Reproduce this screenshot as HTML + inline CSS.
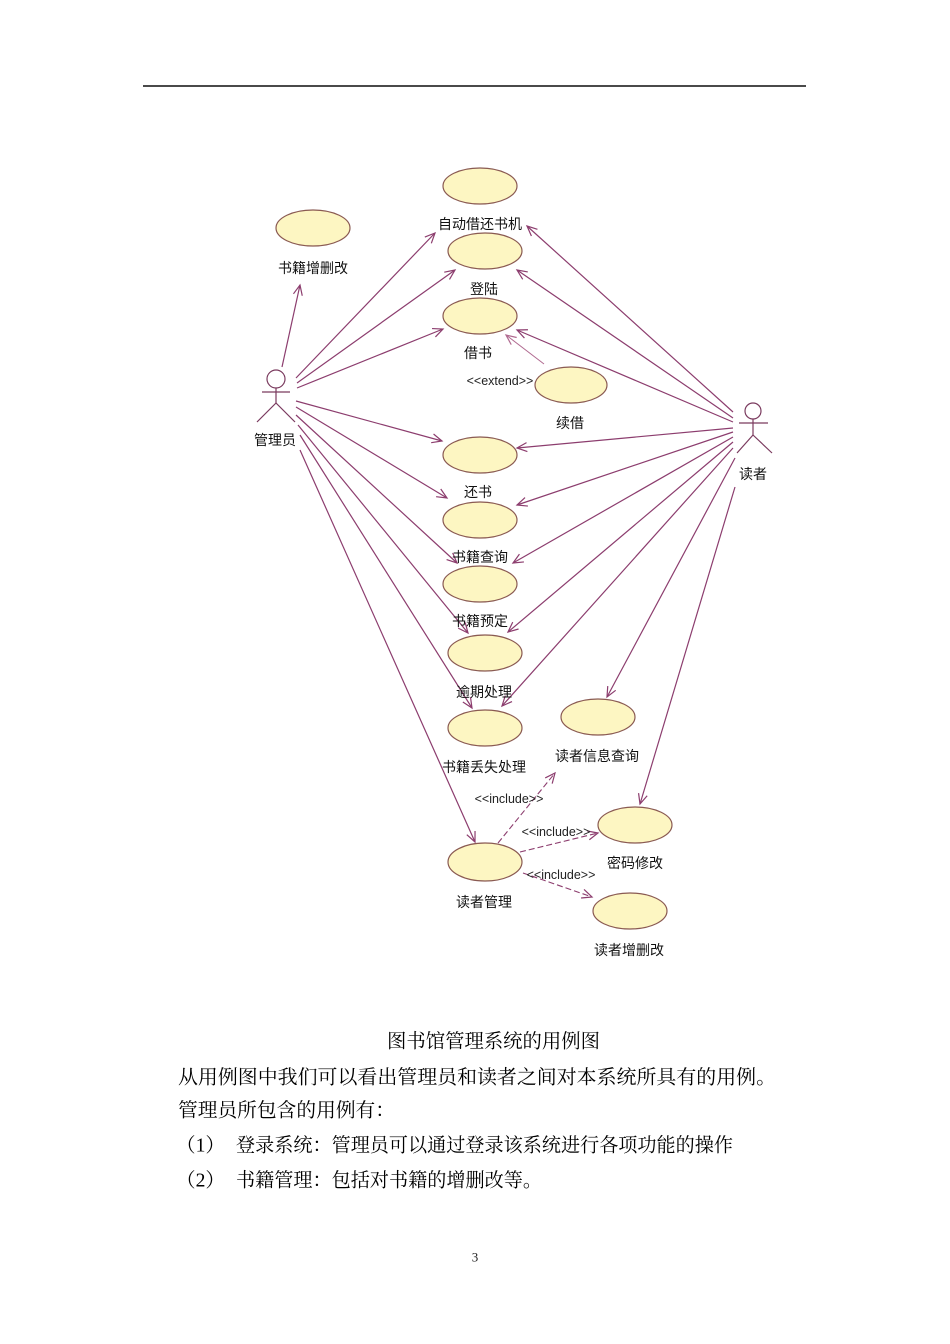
<!DOCTYPE html>
<html><head><meta charset="utf-8">
<style>
html,body{margin:0;padding:0;background:#fff;}
svg{display:block;}
.lb{font-family:"Liberation Sans","Noto Sans CJK SC",sans-serif;font-size:14px;fill:#111;}
.st{font-family:"Liberation Sans","Noto Sans CJK SC",sans-serif;font-size:12.5px;fill:#222;}
.tx{font-family:"Liberation Serif","Noto Serif CJK SC",serif;font-size:19.6px;fill:#000;}
</style></head>
<body>
<svg width="950" height="1344" viewBox="0 0 950 1344" xmlns="http://www.w3.org/2000/svg">
<defs>
<marker id="ar" markerUnits="userSpaceOnUse" markerWidth="14" markerHeight="14" refX="11" refY="6" orient="auto">
<path d="M1,1.5 L11,6 L1,10.5" fill="none" stroke="#8c3d6e" stroke-width="1.2"/>
</marker>
<marker id="ar2" markerUnits="userSpaceOnUse" markerWidth="14" markerHeight="14" refX="11" refY="6" orient="auto">
<path d="M1,1.5 L11,6 L1,10.5" fill="none" stroke="#b06a90" stroke-width="1.2"/>
</marker>
</defs>
<rect width="950" height="1344" fill="#fff"/>
<line x1="143" y1="86" x2="806" y2="86" stroke="#4a4a4a" stroke-width="2"/>

<!-- admin lines -->
<g stroke="#8c3d6e" stroke-width="1.2" fill="none" marker-end="url(#ar)">
<line x1="282" y1="367" x2="300" y2="285"/>
<line x1="296" y1="378" x2="435" y2="233"/>
<line x1="297" y1="383" x2="455" y2="270"/>
<line x1="297" y1="388" x2="443" y2="329"/>
<line x1="296" y1="401" x2="442" y2="441"/>
<line x1="296" y1="407" x2="447" y2="498"/>
<line x1="296" y1="415" x2="457" y2="563"/>
<line x1="298" y1="425" x2="468" y2="633"/>
<line x1="300" y1="435" x2="472" y2="708"/>
<line x1="300" y1="450" x2="475" y2="842"/>
</g>
<!-- reader lines -->
<g stroke="#8c3d6e" stroke-width="1.2" fill="none" marker-end="url(#ar)">
<line x1="733" y1="412" x2="527" y2="226"/>
<line x1="733" y1="418" x2="517" y2="270"/>
<line x1="733" y1="422" x2="517" y2="330"/>
<line x1="733" y1="428" x2="517" y2="448"/>
<line x1="733" y1="432" x2="517" y2="505"/>
<line x1="733" y1="437" x2="513" y2="563"/>
<line x1="733" y1="442" x2="508" y2="632"/>
<line x1="733" y1="448" x2="502" y2="706"/>
<line x1="735" y1="458" x2="607" y2="697"/>
<line x1="735" y1="487" x2="640" y2="804"/>
</g>
<!-- extend -->
<line x1="544" y1="364" x2="506" y2="335" stroke="#b06a90" stroke-width="1" marker-end="url(#ar2)"/>
<!-- includes -->
<g stroke="#8c3d6e" stroke-width="1.1" fill="none" stroke-dasharray="6,3" marker-end="url(#ar)">
<line x1="498" y1="843" x2="555" y2="773"/>
<line x1="520" y1="852" x2="598" y2="833"/>
<line x1="523" y1="873" x2="592" y2="897"/>
</g>

<!-- ellipses -->
<g fill="#fdf6c2" stroke="#8a5a52" stroke-width="1.2">
<ellipse cx="480" cy="186" rx="37" ry="18"/>
<ellipse cx="313" cy="228" rx="37" ry="18"/>
<ellipse cx="485" cy="251" rx="37" ry="18"/>
<ellipse cx="480" cy="316" rx="37" ry="18"/>
<ellipse cx="571" cy="385" rx="36" ry="18"/>
<ellipse cx="480" cy="455" rx="37" ry="18"/>
<ellipse cx="480" cy="520" rx="37" ry="18"/>
<ellipse cx="480" cy="584" rx="37" ry="18"/>
<ellipse cx="485" cy="653" rx="37" ry="18"/>
<ellipse cx="485" cy="728" rx="37" ry="18"/>
<ellipse cx="598" cy="717" rx="37" ry="18"/>
<ellipse cx="485" cy="862" rx="37" ry="19"/>
<ellipse cx="635" cy="825" rx="37" ry="18"/>
<ellipse cx="630" cy="911" rx="37" ry="18"/>
</g>

<!-- actors -->
<g stroke="#7a3a5e" stroke-width="1.2" fill="none">
<circle cx="276" cy="379" r="9" fill="#fff"/>
<line x1="276" y1="388" x2="276" y2="403"/>
<line x1="262" y1="392" x2="290" y2="392"/>
<line x1="276" y1="403" x2="257" y2="422"/>
<line x1="276" y1="403" x2="295" y2="422"/>
<circle cx="753" cy="411" r="8" fill="#fff"/>
<line x1="753" y1="419" x2="753" y2="435"/>
<line x1="739" y1="423" x2="768" y2="423"/>
<line x1="753" y1="435" x2="737" y2="453"/>
<line x1="753" y1="435" x2="772" y2="453"/>
</g>

<!-- labels -->
<g class="lb" text-anchor="middle" dominant-baseline="central">
<text x="480" y="224">自动借还书机</text>
<text x="313" y="268">书籍增删改</text>
<text x="484" y="289">登陆</text>
<text x="478" y="353">借书</text>
<text x="570" y="423">续借</text>
<text x="478" y="492">还书</text>
<text x="480" y="557">书籍查询</text>
<text x="480" y="621">书籍预定</text>
<text x="484" y="692">逾期处理</text>
<text x="484" y="767">书籍丢失处理</text>
<text x="597" y="756">读者信息查询</text>
<text x="484" y="902">读者管理</text>
<text x="635" y="863">密码修改</text>
<text x="629" y="950">读者增删改</text>
<text x="275" y="440">管理员</text>
<text x="753" y="474">读者</text>
</g>
<g class="st" text-anchor="middle" dominant-baseline="central">
<text x="500" y="381">&lt;&lt;extend&gt;&gt;</text>
<text x="509" y="799">&lt;&lt;include&gt;&gt;</text>
<text x="556" y="832">&lt;&lt;include&gt;&gt;</text>
<text x="561" y="875">&lt;&lt;include&gt;&gt;</text>
</g>

<!-- body text -->
<g class="tx" dominant-baseline="central">
<text x="387" y="1042" textLength="213" lengthAdjust="spacingAndGlyphs">图书馆管理系统的用例图</text>
<text x="178" y="1078" textLength="598" lengthAdjust="spacingAndGlyphs">从用例图中我们可以看出管理员和读者之间对本系统所具有的用例。</text>
<text x="178" y="1111" textLength="217" lengthAdjust="spacingAndGlyphs">管理员所包含的用例有：</text>
<text x="176" y="1146">（1）</text>
<text x="236" y="1146" textLength="497" lengthAdjust="spacingAndGlyphs">登录系统：管理员可以通过登录该系统进行各项功能的操作</text>
<text x="176" y="1181">（2）</text>
<text x="236" y="1181" textLength="306" lengthAdjust="spacingAndGlyphs">书籍管理：包括对书籍的增删改等。</text>
</g>
<text x="475" y="1257" text-anchor="middle" dominant-baseline="central" font-family="Liberation Serif, serif" font-size="13" fill="#222">3</text>
</svg>
</body></html>
